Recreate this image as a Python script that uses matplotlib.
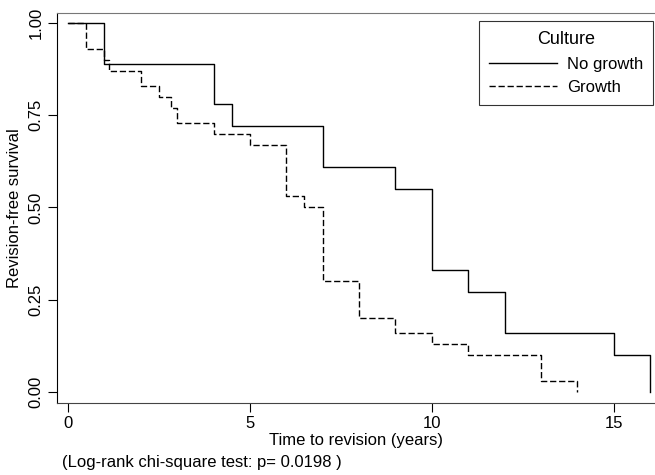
import matplotlib
matplotlib.use("Agg")
import matplotlib.pyplot as plt

plt.rcParams['font.family'] = ['Liberation Sans', 'DejaVu Sans']

# Kaplan-Meier steps
no_growth_time = [0, 1, 4, 4.5, 7, 9, 10, 11, 12, 15, 16]
no_growth_surv = [1.0, 0.89, 0.78, 0.72, 0.61, 0.55, 0.33, 0.27, 0.16, 0.10, 0.0]

growth_time = [0, 0.5, 1.0, 1.13, 2.0, 2.5, 2.83, 3.0, 4.0, 5.0, 6.0, 6.5,
               7.0, 8.0, 9.0, 10.0, 11.0, 13.0, 14.0]
growth_surv = [1.0, 0.93, 0.90, 0.87, 0.83, 0.80, 0.77, 0.73, 0.70, 0.67, 0.53,
               0.50, 0.30, 0.20, 0.16, 0.13, 0.10, 0.03, 0.0]

x_ticks = [0, 5, 10, 15]
y_ticks = [0, 0.25, 0.5, 0.75, 1.0]
y_tick_labels = ['0.00', '0.25', '0.50', '0.75', '1.00']

fig = plt.figure(figsize=(6.55, 4.75), dpi=100)
ax = fig.add_axes([57 / 655, 1 - 403 / 475, 1 - 57 / 655, (403 - 13) / 475])

ax.step(no_growth_time, no_growth_surv, where='post', color='black',
        lw=1.0, label='No growth')
ax.step(growth_time, growth_surv, where='post', color='black',
        lw=1.0, dashes=(4.5, 2), label='Growth')

ax.set_xlim(-0.3, 16.13)
ax.set_ylim(-0.03, 1.027)

ax.set_xticks(x_ticks)
ax.set_xticklabels([str(t) for t in x_ticks], fontsize=12)
ax.set_yticks(y_ticks)
ax.set_yticklabels(y_tick_labels, rotation=90, va='center', fontsize=12)
ax.tick_params(direction='out', length=6.5, width=0.8, color='black', pad=3)

ax.spines['right'].set_visible(False)
ax.spines['top'].set_color('#777777')
ax.spines['top'].set_linewidth(0.8)
ax.spines['left'].set_linewidth(0.8)
ax.spines['bottom'].set_color('#444444')
ax.spines['bottom'].set_linewidth(0.8)

ax.set_xlabel('Time to revision (years)', fontsize=12, labelpad=1)
ax.set_ylabel('Revision-free survival', fontsize=12, labelpad=5)

leg = ax.legend(title='Culture', loc='upper right', bbox_to_anchor=(0.997, 0.979),
                borderaxespad=0, fontsize=12, title_fontsize=13,
                frameon=True, fancybox=False, edgecolor='black',
                handlelength=4.1, handletextpad=0.6,
                labelspacing=0.5, borderpad=0.6)
leg.get_frame().set_linewidth(0.8)

fig.text(62 / 655, 1 - 463 / 475, '(Log-rank chi-square test: p= 0.0198 )',
         fontsize=12, va='center', ha='left')

fig.savefig('out.png', dpi=100)
